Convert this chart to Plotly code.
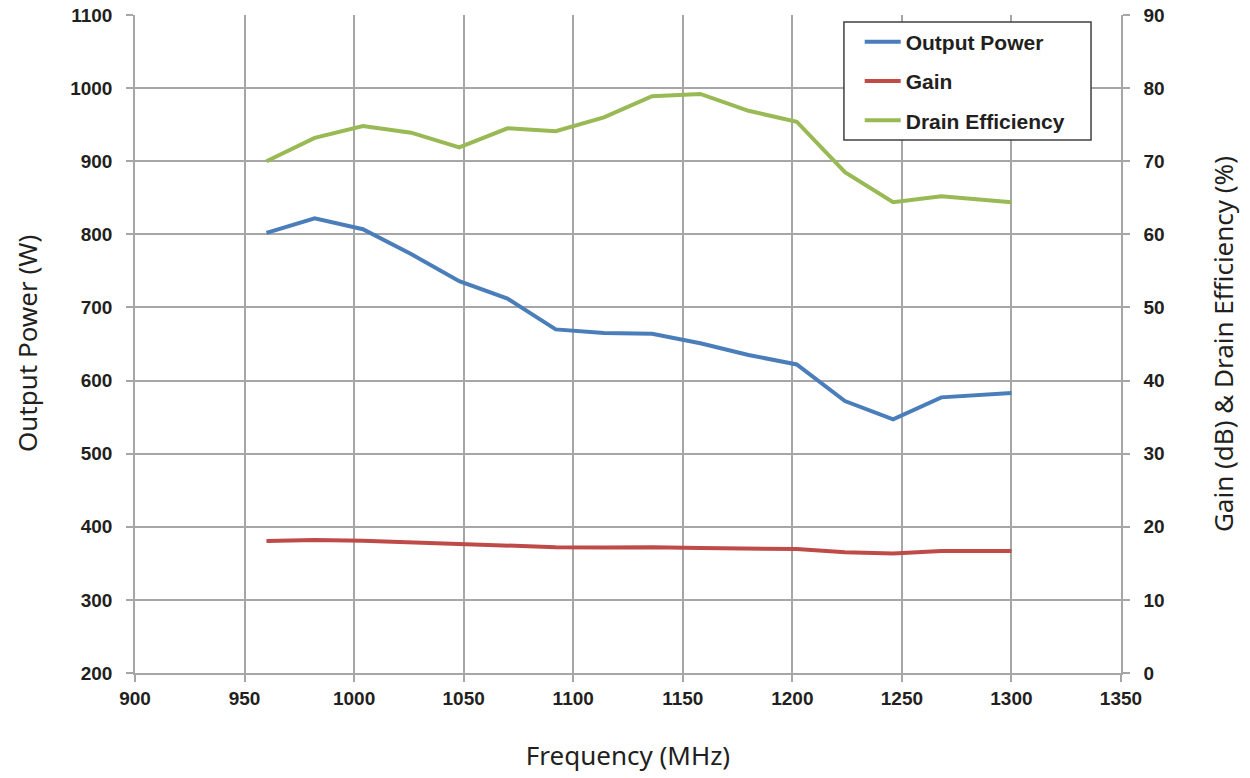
import plotly.graph_objects as go

freq = [960, 982, 1004, 1026, 1048, 1070, 1092, 1114, 1136, 1158, 1180, 1202, 1224, 1246, 1268, 1300]
output_power = [802, 822, 807, 773, 736, 712, 670, 665, 664, 651, 635, 622, 572, 547, 577, 583]
gain = [18.05, 18.2, 18.1, 17.9, 17.6, 17.5, 17.2, 17.15, 17.2, 17.1, 17.0, 16.95, 16.5, 16.35, 16.7, 16.7]
drain_eff = [70.0, 73.2, 74.8, 73.9, 71.9, 74.5, 74.1, 76.0, 78.9, 79.2, 76.9, 75.4, 68.5, 64.4, 65.2, 64.4]

x_ticks = [900, 950, 1000, 1050, 1100, 1150, 1200, 1250, 1300, 1350]
left_ticks = [200, 300, 400, 500, 600, 700, 800, 900, 1000, 1100]
right_ticks = [0, 10, 20, 30, 40, 50, 60, 70, 80, 90]

grid_col = "#a6a6a6"
tick_font = dict(family="Liberation Sans, Arial", size=19, color="#231f20", weight="bold")
title_font = dict(family="Noto Sans, Open Sans", size=26, color="#231f20")

fig = go.Figure()
fig.add_trace(go.Scatter(x=freq, y=output_power, name="Output Power", mode="lines",
                         line=dict(color="#4a7ebb", width=4), legendgroup="a"))
fig.add_trace(go.Scatter(x=freq, y=gain, name="Gain", mode="lines", yaxis="y2",
                         line=dict(color="#be4b48", width=4), legendgroup="b"))
fig.add_trace(go.Scatter(x=freq, y=drain_eff, name="Drain Efficiency", mode="lines", yaxis="y2",
                         line=dict(color="#98b954", width=4), legendgroup="c"))

# legend frame
fig.add_shape(type="rect", xref="paper", yref="paper", x0=0.719, x1=0.9696, y0=0.810, y1=0.9894,
              line=dict(color="#404040", width=1.5), fillcolor="white", layer="above")

# left axis title
fig.add_annotation(text="Output Power (W)", xref="paper", yref="paper", x=-0.1095, y=0.5,
                   xanchor="center", yanchor="middle", textangle=-90, showarrow=False,
                   font=title_font)

fig.update_layout(
    width=1250, height=778,
    margin=dict(l=135, r=129, t=15, b=105, autoexpand=False),
    plot_bgcolor="white", paper_bgcolor="white",
    showlegend=True,
    legend=dict(x=0.735, y=0.99, xanchor="left", yanchor="top",
                borderwidth=0, bgcolor="rgba(0,0,0,0)",
                font=dict(family="Liberation Sans, Arial", size=21, color="#231f20", weight="bold"),
                tracegroupgap=9, itemwidth=36),
    xaxis=dict(range=[900, 1350], tickvals=x_ticks, ticktext=[str(v) for v in x_ticks],
               showgrid=True, gridcolor=grid_col, gridwidth=1.5, automargin=False,
               showline=True, linecolor=grid_col, linewidth=1.5, mirror=False,
               ticks="outside", ticklen=7, tickcolor=grid_col, tickwidth=1.5,
               tickfont=tick_font, zeroline=False, ticklabelstandoff=0,
               title=dict(text="Frequency (MHz)", font=title_font, standoff=39)),
    yaxis=dict(range=[200, 1100], tickvals=left_ticks, ticktext=[str(v) for v in left_ticks],
               showgrid=True, gridcolor=grid_col, gridwidth=1.5, automargin=False,
               showline=True, linecolor=grid_col, linewidth=1.5,
               ticks="outside", ticklen=7, tickcolor=grid_col, tickwidth=1.5,
               tickfont=tick_font, zeroline=False, ticklabelstandoff=10),
    yaxis2=dict(range=[0, 90], tickvals=right_ticks, ticktext=[str(v) for v in right_ticks],
                overlaying="y", side="right", showgrid=False, automargin=False,
                showline=True, linecolor=grid_col, linewidth=1.5,
                ticks="outside", ticklen=7, tickcolor=grid_col, tickwidth=1.5,
                tickfont=tick_font, zeroline=False, ticklabelstandoff=10,
                title=dict(text="Gain (dB) & Drain Efficiency (%)", font=title_font, standoff=51)),
)

fig.write_html("out.html", config={"displayModeBar": False},
               post_script="document.body.style.margin='0';document.body.style.overflow='hidden';")
